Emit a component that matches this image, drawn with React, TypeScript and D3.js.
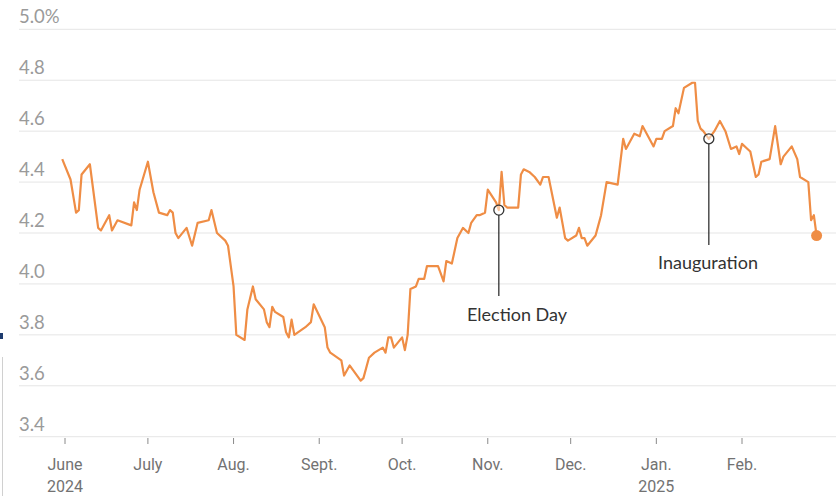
import { useMemo } from 'react';
import * as d3 from 'd3';

// 10-year yield (vertices of the line)
const DATES = [
  '2024-05-31', '2024-06-03', '2024-06-05', '2024-06-06', '2024-06-07', '2024-06-10', '2024-06-13', '2024-06-14',
  '2024-06-17', '2024-06-18', '2024-06-20', '2024-06-25', '2024-06-26', '2024-06-27', '2024-06-28', '2024-07-01',
  '2024-07-03', '2024-07-05', '2024-07-08', '2024-07-09', '2024-07-10', '2024-07-11', '2024-07-12', '2024-07-15',
  '2024-07-17', '2024-07-19', '2024-07-23', '2024-07-24', '2024-07-26', '2024-07-29', '2024-07-30', '2024-08-01',
  '2024-08-02', '2024-08-05', '2024-08-06', '2024-08-08', '2024-08-09', '2024-08-12', '2024-08-13', '2024-08-14',
  '2024-08-15', '2024-08-16', '2024-08-19', '2024-08-20', '2024-08-21', '2024-08-22', '2024-08-23', '2024-08-27',
  '2024-08-29', '2024-08-30', '2024-09-03', '2024-09-04', '2024-09-05', '2024-09-09', '2024-09-10', '2024-09-12',
  '2024-09-16', '2024-09-17', '2024-09-19', '2024-09-21', '2024-09-24', '2024-09-25', '2024-09-26', '2024-09-27',
  '2024-09-28', '2024-10-01', '2024-10-02', '2024-10-03', '2024-10-04', '2024-10-06', '2024-10-07', '2024-10-09',
  '2024-10-10', '2024-10-14', '2024-10-15', '2024-10-16', '2024-10-17', '2024-10-19', '2024-10-21', '2024-10-22',
  '2024-10-23', '2024-10-25', '2024-10-26', '2024-10-28', '2024-10-29', '2024-10-31', '2024-11-01', '2024-11-04',
  '2024-11-05', '2024-11-06', '2024-11-07', '2024-11-08', '2024-11-12', '2024-11-13', '2024-11-14', '2024-11-16',
  '2024-11-18', '2024-11-20', '2024-11-21', '2024-11-23', '2024-11-26', '2024-11-27', '2024-11-29', '2024-11-30',
  '2024-12-03', '2024-12-04', '2024-12-05', '2024-12-06', '2024-12-07', '2024-12-10', '2024-12-11', '2024-12-12',
  '2024-12-14', '2024-12-18', '2024-12-20', '2024-12-21', '2024-12-24', '2024-12-26', '2024-12-27', '2024-12-31',
  '2025-01-01', '2025-01-03', '2025-01-04', '2025-01-07', '2025-01-08', '2025-01-09', '2025-01-11', '2025-01-14',
  '2025-01-15', '2025-01-16', '2025-01-17', '2025-01-18', '2025-01-20', '2025-01-22', '2025-01-24', '2025-01-26',
  '2025-01-28', '2025-01-30', '2025-01-31', '2025-02-01', '2025-02-03', '2025-02-04', '2025-02-06', '2025-02-07',
  '2025-02-08', '2025-02-11', '2025-02-13', '2025-02-15', '2025-02-16', '2025-02-19', '2025-02-21', '2025-02-22',
  '2025-02-25', '2025-02-26', '2025-02-27', '2025-02-28',
];

const YIELDS = [
  4.49, 4.41, 4.28, 4.29, 4.43, 4.47, 4.22, 4.21,
  4.27, 4.21, 4.25, 4.23, 4.32, 4.29, 4.37, 4.48,
  4.36, 4.28, 4.27, 4.29, 4.28, 4.20, 4.18, 4.22,
  4.15, 4.24, 4.25, 4.29, 4.20, 4.17, 4.15, 3.99,
  3.80, 3.78, 3.90, 3.99, 3.94, 3.90, 3.85, 3.83,
  3.91, 3.89, 3.87, 3.81, 3.79, 3.86, 3.80, 3.83,
  3.85, 3.92, 3.83, 3.75, 3.73, 3.70, 3.64, 3.68,
  3.62, 3.63, 3.71, 3.73, 3.75, 3.73, 3.79, 3.79,
  3.75, 3.79, 3.74, 3.80, 3.98, 3.99, 4.02, 4.02,
  4.07, 4.07, 4.04, 4.01, 4.09, 4.08, 4.18, 4.20,
  4.22, 4.20, 4.24, 4.27, 4.27, 4.28, 4.37, 4.32,
  4.29, 4.44, 4.31, 4.30, 4.30, 4.43, 4.45, 4.44,
  4.42, 4.39, 4.42, 4.42, 4.26, 4.30, 4.18, 4.17,
  4.19, 4.22, 4.18, 4.18, 4.15, 4.19, 4.23, 4.27,
  4.40, 4.39, 4.57, 4.53, 4.59, 4.58, 4.62, 4.54,
  4.57, 4.57, 4.60, 4.62, 4.69, 4.67, 4.77, 4.79,
  4.79, 4.64, 4.61, 4.60, 4.57, 4.60, 4.64, 4.60,
  4.53, 4.54, 4.51, 4.55, 4.53, 4.52, 4.42, 4.43,
  4.48, 4.49, 4.62, 4.47, 4.50, 4.54, 4.49, 4.42,
  4.40, 4.25, 4.27, 4.19,
];

const Y_TICKS = [3.4, 3.6, 3.8, 4.0, 4.2, 4.4, 4.6, 4.8, 5.0];
const MONTH_TICKS = ['2024-06-01', '2024-07-01', '2024-08-01', '2024-09-01', '2024-10-01', '2024-11-01', '2024-12-01', '2025-01-01', '2025-02-01'];
const MONTH_LABELS = ['June', 'July', 'Aug.', 'Sept.', 'Oct.', 'Nov.', 'Dec.', 'Jan.', 'Feb.'];
const YEAR_LABELS = ['2024', '', '', '', '', '', '', '2025', ''];

const EVENT_LABELS = ['Election Day', 'Inauguration'];
const EVENT_DATES = ['2024-11-05', '2025-01-20'];

const W = 836;
const H = 496;
const ORANGE = '#ef8d45';

const parse = d3.utcParse('%Y-%m-%d');

export default function App() {
  const data = useMemo(
    () => DATES.map((d, i) => ({ date: parse(d) as Date, value: YIELDS[i] })),
    []
  );

  const x = d3.scaleUtc()
    .domain([parse('2024-06-01') as Date, parse('2025-02-01') as Date])
    .range([65, 742]);
  const y = d3.scaleLinear().domain([3.4, 5.0]).range([436.7, 29.3]);

  const line = d3.line<{ date: Date; value: number }>()
    .x((d) => x(d.date))
    .y((d) => y(d.value));

  const last = data[data.length - 1];

  const events = EVENT_LABELS.map((label, i) => {
    const pt = data.find((d) => +d.date === +(parse(EVENT_DATES[i]) as Date))!;
    return { label, cx: x(pt.date), cy: y(pt.value) };
  });
  const leaderEnd = [296, 245];
  const labelPos = [
    { x: 467, y: 321, anchor: 'start' },
    { x: 708, y: 269, anchor: 'middle' },
  ];

  return (
    <div style={{ position: 'absolute', left: 0, top: 0 }}>
      <svg width={W} height={H} style={{ display: 'block', background: '#fff' }}>
        {/* stray page edge from the source screenshot */}
        <line x1={2.5} x2={2.5} y1={357} y2={H} stroke="#d0d0d0" strokeWidth={1} />
        <rect x={0} y={333} width={3} height={6} fill="#1d3b6e" />

        {Y_TICKS.map((t) => (
          <g key={t}>
            <line x1={19} x2={W} y1={y(t)} y2={y(t)} stroke="#e5e5e5" strokeWidth={1} />
            <text
              x={19}
              y={y(t) - 6}
              fontFamily="Lato, 'Noto Sans', sans-serif"
              fontSize={18.5}
              fill="#9a9a9a"
            >
              {t === 5.0 ? '5.0%' : d3.format('.1f')(t)}
            </text>
          </g>
        ))}

        {MONTH_TICKS.map((m, i) => {
          const xm = x(parse(m) as Date);
          return (
            <g key={m} fontFamily="'Liberation Sans Narrow', 'Arial Narrow', 'Roboto', sans-serif" fontSize={16} fill="#727272" textAnchor="middle">
              <line x1={xm} x2={xm} y1={438} y2={444} stroke="#8a8a8a" strokeWidth={1} />
              <text x={xm} y={470}>{MONTH_LABELS[i]}</text>
              {YEAR_LABELS[i] && <text x={xm} y={492}>{YEAR_LABELS[i]}</text>}
            </g>
          );
        })}

        <path d={line(data) ?? ''} fill="none" stroke={ORANGE} strokeWidth={2.2} strokeLinejoin="round" />
        <circle cx={x(last.date)} cy={y(last.value)} r={5.5} fill={ORANGE} />

        {events.map((e, i) => (
          <g key={e.label}>
            <line x1={e.cx} x2={e.cx} y1={e.cy + 5} y2={leaderEnd[i]} stroke="#222" strokeWidth={1.2} />
            <circle cx={e.cx} cy={e.cy} r={5} fill="rgba(255,255,255,0.5)" stroke="#333" strokeWidth={1.3} />
            <text
              x={labelPos[i].x}
              y={labelPos[i].y}
              textAnchor={labelPos[i].anchor}
              fontFamily="Lato, 'Noto Sans', sans-serif"
              fontSize={18}
              fill="#333"
            >
              {e.label}
            </text>
          </g>
        ))}
      </svg>
    </div>
  );
}
